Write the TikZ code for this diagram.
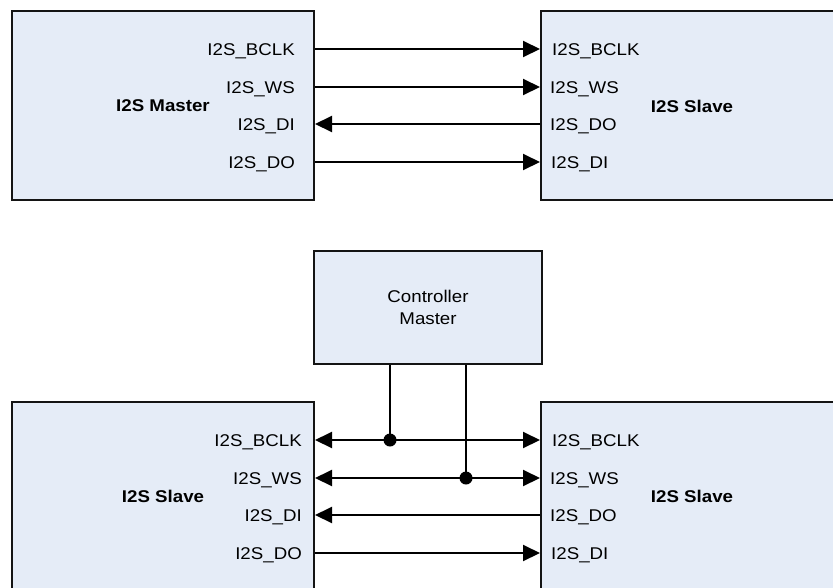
\documentclass[tikz,border=0pt]{standalone}
\usepackage{fontspec}
\setmainfont{Liberation Sans}[FakeStretch=1.1]
\usetikzlibrary{arrows.meta}
\definecolor{boxfill}{RGB}{229,236,247}
\definecolor{boxline}{RGB}{20,20,20}
\begin{document}
\begin{tikzpicture}[x=1pt,y=-1pt,
  blk/.style={draw=boxline,fill=boxfill,line width=2pt,rectangle,inner sep=0pt},
  lbl/.style={inner sep=0pt,text height=12pt,text depth=0pt,font=\fontsize{17}{20}\selectfont},
  ttl/.style={inner sep=0pt,font=\fontsize{17}{20}\selectfont\bfseries},
  sig/.style={line width=2pt,black},
  tip/.style={-{Triangle[length=17pt,width=16pt]}},
  both/.style={{Triangle[length=17pt,width=16pt]}-{Triangle[length=17pt,width=16pt]}},
  dot/.style={circle,fill=black,inner sep=0pt,minimum size=13pt}]
\useasboundingbox (0,0) rectangle (833,587);
\clip (0,0) rectangle (833,587);
% top pair
\node[blk,minimum width=302pt,minimum height=189pt] (mA) at (163,105.5) {};
\node[blk,minimum width=330pt,minimum height=189pt] (sA) at (706,105.5) {};
\node[ttl] (tA) at (163,106) {I2S Master};
\node[ttl] (tB) at (692,106) {I2S Slave};
\node[lbl,anchor=east] (a1) at (295,49) {I2S\_BCLK};
\node[lbl,anchor=east] (a2) at (295,87) {I2S\_WS};
\node[lbl,anchor=east] (a3) at (295,124) {I2S\_DI};
\node[lbl,anchor=east] (a4) at (295,162) {I2S\_DO};
\node[lbl,anchor=west] (b1) at (552,49) {I2S\_BCLK};
\node[lbl,anchor=west] (b2) at (550,87) {I2S\_WS};
\node[lbl,anchor=west] (b3) at (550,124) {I2S\_DO};
\node[lbl,anchor=west] (b4) at (551,162) {I2S\_DI};
\draw[sig,tip] (mA.east |- a1) -- (sA.west |- a1);
\draw[sig,tip] (mA.east |- a2) -- (sA.west |- a2);
\draw[sig,tip] (sA.west |- a3) -- (mA.east |- a3);
\draw[sig,tip] (mA.east |- a4) -- (sA.west |- a4);
% controller
\node[blk,minimum width=228pt,minimum height=113pt,align=center,
  font=\fontsize{17}{21.5}\selectfont] (ctrl) at (428,307.5) {Controller\\Master};
% bottom pair
\node[blk,minimum width=302pt,minimum height=220pt] (sB) at (163,512) {};
\node[blk,minimum width=330pt,minimum height=220pt] (sC) at (706,512) {};
\node[ttl] (tC) at (163,496) {I2S Slave};
\node[ttl] (tD) at (692,496) {I2S Slave};
\node[lbl,anchor=east] (c1) at (302,440) {I2S\_BCLK};
\node[lbl,anchor=east] (c2) at (302,478) {I2S\_WS};
\node[lbl,anchor=east] (c3) at (302,515) {I2S\_DI};
\node[lbl,anchor=east] (c4) at (302,553) {I2S\_DO};
\node[lbl,anchor=west] (d1) at (552,440) {I2S\_BCLK};
\node[lbl,anchor=west] (d2) at (550,478) {I2S\_WS};
\node[lbl,anchor=west] (d3) at (550,515) {I2S\_DO};
\node[lbl,anchor=west] (d4) at (551,553) {I2S\_DI};
\draw[sig,both] (sB.east |- c1) -- (sC.west |- c1);
\draw[sig,both] (sB.east |- c2) -- (sC.west |- c2);
\draw[sig,tip] (sC.west |- c3) -- (sB.east |- c3);
\draw[sig,tip] (sB.east |- c4) -- (sC.west |- c4);
\coordinate (j1) at (390,440);
\coordinate (j2) at (466,478);
\draw[sig] (ctrl.south -| j1) -- (j1);
\draw[sig] (ctrl.south -| j2) -- (j2);
\node[dot] (k1) at (j1) {};
\node[dot] (k2) at (j2) {};
\end{tikzpicture}
\end{document}
